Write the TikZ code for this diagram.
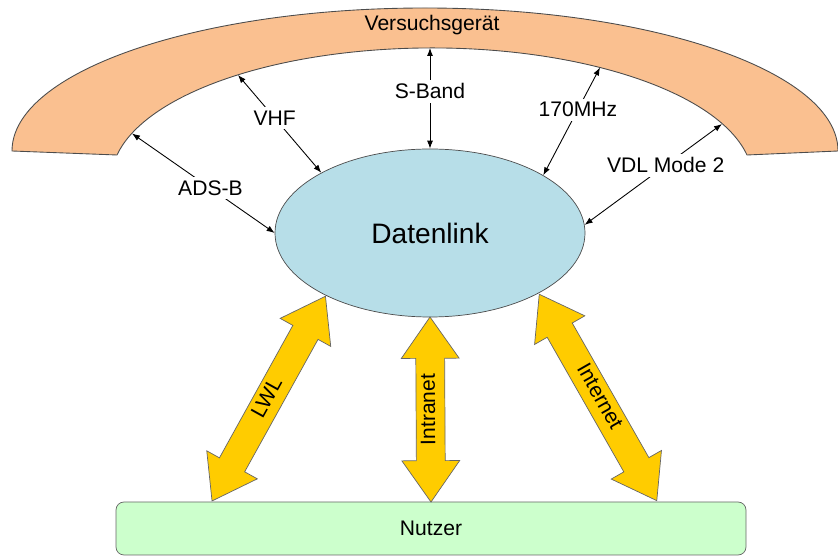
\documentclass[tikz,border=0pt]{standalone}
\usepackage{fontspec}
\setmainfont{Liberation Sans}
\usepackage{tikz}
\usetikzlibrary{positioning,arrows.meta,shapes.geometric,shapes.arrows}

\definecolor{bandorange}{RGB}{250,192,144}
\definecolor{linkblue}{RGB}{183,222,232}
\definecolor{usergreen}{RGB}{204,255,204}
\definecolor{arrowyellow}{RGB}{255,204,0}

\begin{document}
\begin{tikzpicture}[
  lbl/.style={fill=white, inner sep=2pt, font=\fontsize{12}{14}\selectfont},
  arr/.style={{Latex[length=1.6mm,width=1.2mm]}-{Latex[length=1.6mm,width=1.2mm]}, line width=0.5pt},
  fat/.style={double arrow, draw=black!60, fill=arrowyellow, double arrow head extend=0.29cm,
    double arrow tip angle=70, inner sep=3.4pt, text height=0.72em, text depth=0.2em,
    font=\fontsize{12}{14}\selectfont, sloped, midway},
]
\useasboundingbox (0,0) rectangle (16.76,11.14);

% Versuchsgeraet band
\draw[fill=bandorange, draw=black!70, line width=0.5pt] (0.24,8.12)
  arc[start angle=180, end angle=0, x radius=8.26cm, y radius=2.86cm] -- (14.94,8.04)
  arc[start angle=10.9, end angle=169.1, x radius=6.416cm, y radius=2.64cm] -- cycle;
\node[font=\fontsize{12}{14}\selectfont] (vg) at (8.64,10.64) {Versuchsgerät};

\node[ellipse, draw=black!70, fill=linkblue, minimum width=6.2cm, minimum height=3.36cm,
  font=\fontsize{16}{19}\selectfont] (dl) at (8.6,6.48) {Datenlink};
\node[draw=black!60, fill=usergreen, rounded corners=0.16cm, minimum width=12.6cm,
  minimum height=1.06cm, font=\fontsize{12}{14}\selectfont] (nutzer) at (8.62,0.57) {Nutzer};

\coordinate (adsb) at (2.64,8.47);
\coordinate (vhf) at (4.76,9.64);
\coordinate (sband) at (8.6,10.18);
\coordinate (mhz) at (12.0,9.79);
\coordinate (vdl) at (14.44,8.66);

\draw[arr] (dl.180) -- node[lbl, pos=0.45] {ADS-B} (adsb);
\draw[arr] (dl.151) -- node[lbl, pos=0.56] {VHF} (vhf);
\draw[arr] (dl.north) -- node[lbl, pos=0.57] {S-Band} (sband);
\draw[arr] (dl.27) -- node[lbl, pos=0.61] {170MHz} (mhz);
\draw[arr] (dl.3) -- node[lbl, pos=0.59] {VDL Mode 2} (vdl);

\path (dl.211) -- node[fat, minimum height=4.68cm] {LWL} ([xshift=1.92cm]nutzer.north west);
\path (nutzer.north) -- node[fat, allow upside down, minimum height=3.7cm] {Intranet} (dl.south);
\path (dl.-29) -- node[fat, minimum height=4.75cm] {Internet} ([xshift=-1.78cm]nutzer.north east);
\end{tikzpicture}
\end{document}
